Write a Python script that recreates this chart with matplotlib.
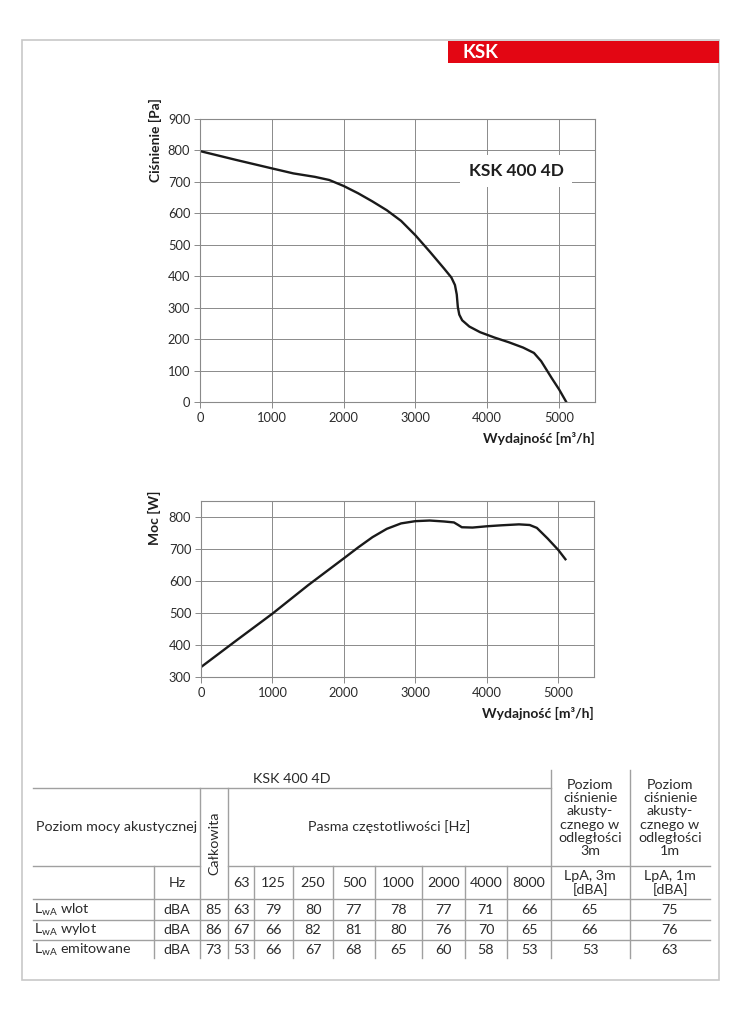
import matplotlib.pyplot as plt
from matplotlib.patches import Rectangle

plt.rcParams["font.family"] = ["Lato", "DejaVu Sans"]
plt.rcParams["mathtext.fontset"] = "custom"
plt.rcParams["mathtext.rm"] = "Lato"

# pressure curve (airflow m3/h -> Pa)
flow_p = [0, 500, 1000, 1300, 1600, 1800, 2000, 2200, 2400, 2600, 2800, 3000,
          3200, 3400, 3500, 3550, 3575, 3590, 3610, 3650, 3750, 3900, 4100,
          4300, 4500, 4650, 4750, 4900, 5000, 5100]
pressure = [798, 770, 743, 727, 716, 706, 687, 664, 638, 610, 576, 530,
            478, 424, 396, 372, 342, 302, 278, 260, 240, 222, 205,
            190, 173, 156, 130, 75, 40, 0]

# power curve (airflow m3/h -> W)
flow_w = [0, 500, 1000, 1500, 2000, 2200, 2400, 2600, 2800, 3000, 3200, 3400,
          3540, 3600, 3650, 3800, 4000, 4200, 4450, 4600, 4700, 4850, 5000, 5100]
power = [331, 415, 498, 587, 671, 705, 737, 763, 780, 787, 789, 786,
         783, 775, 768, 767, 771, 774, 777, 775, 766, 733, 697, 668]

model = "KSK 400 4D"
freqs = ["63", "125", "250", "500", "1000", "2000", "4000", "8000"]
row_labels = ["L$_{\\rm wA}$ wlot", "L$_{\\rm wA}$ wylot", "L$_{\\rm wA}$ emitowane"]
total = [85, 86, 73]
bands = [
    [63, 79, 80, 77, 78, 77, 71, 66],
    [67, 66, 82, 81, 80, 76, 70, 65],
    [53, 66, 67, 68, 65, 60, 58, 53],
]
lpa_3m = [65, 66, 53]
lpa_1m = [75, 76, 63]

W, H = 745, 1024
GRID = "#8a8a8a"
TXT = "#2b2b2b"

fig = plt.figure(figsize=(W / 100, H / 100), dpi=100)

# page frame + header
page = fig.add_axes([0, 0, 1, 1])
page.set_xlim(0, W)
page.set_ylim(H, 0)
page.axis("off")
page.add_patch(Rectangle((22, 40), 697, 940, fill=False, ec="#c8c8c8", lw=1.2))
page.add_patch(Rectangle((448, 41), 271, 22, fc="#e30613", ec="none"))
page.text(462, 53, "KSK", color="white", fontsize=13.5, fontweight="bold",
          va="center", ha="left")


def chart(rect, x, y, ylim, yticks, ylabel, label_xy):
    ax = fig.add_axes([rect[0] / W, 1 - rect[3] / H,
                       (rect[2] - rect[0]) / W, (rect[3] - rect[1]) / H])
    ax.plot(x, y, color="#1a1a1a", lw=1.7)
    ax.set_xlim(0, 5500)
    ax.set_ylim(*ylim)
    ax.set_xticks([0, 1000, 2000, 3000, 4000, 5000])
    ax.set_yticks(yticks)
    ax.grid(True, color=GRID, lw=0.7)
    for s in ax.spines.values():
        s.set_color(GRID)
        s.set_linewidth(0.8)
    ax.tick_params(length=4, width=0.7, color=GRID, labelsize=9.3,
                   labelcolor=TXT, pad=3)
    ax.set_ylabel(ylabel, fontsize=10, fontweight="bold", color="#1e1e1e")
    ax.yaxis.set_label_coords(*label_xy)
    ax.set_xlabel("Wydajność [m³/h]", fontsize=10, fontweight="bold",
                  color="#1e1e1e", loc="right", labelpad=6)
    return ax


ax1 = chart((200, 119, 595, 402), flow_p, pressure, (0, 900),
            range(0, 901, 100), "Ciśnienie [Pa]", (-0.097, 0.926))
ax1.text(4400, 735, model, fontsize=12.5, fontweight="bold", color="#1e1e1e",
         ha="center", va="center",
         bbox=dict(fc="white", ec="none", pad=6))

ax2 = chart((201, 501, 594, 677), flow_w, power, (300, 850),
            range(300, 801, 100), "Moc [W]", (-0.103, 0.903))

# acoustic table
t = page
LC = "#a0a0a0"
FS = 10.3
cols = [33, 154, 200, 228, 254, 293, 333, 375, 422, 465, 507, 551, 630, 710]
rows_y = [899, 920, 940]
bottom = 958


def hline(y, x0, x1):
    t.plot([x0, x1], [y, y], color=LC, lw=1.0)


def vline(x, y0, y1):
    t.plot([x, x], [y0, y1], color=LC, lw=1.0)


hline(788, 33, 551)
hline(866, 33, 200)
hline(866, 228, 710)
for y in rows_y:
    hline(y, 33, 710)
vline(154, 866, bottom)
vline(200, 788, bottom)
vline(228, 788, bottom)
for x in cols[4:11]:
    vline(x, 866, bottom)
vline(551, 770, bottom)
vline(630, 770, bottom)

t.text(292, 779, model, fontsize=FS, color=TXT, ha="center", va="center")
t.text(117, 827, "Poziom mocy akustycznej", fontsize=FS, color=TXT,
       ha="center", va="center")
t.text(214, 843, "Całkowita", fontsize=FS, color=TXT, ha="center",
       va="center", rotation=90)
t.text(389, 827, "Pasma częstotliwości [Hz]", fontsize=FS, color=TXT,
       ha="center", va="center")
for cx, d in [(590, "3m"), (670, "1m")]:
    t.text(cx, 818, "Poziom\nciśnienie\nakusty-\ncznego w\nodległości\n" + d,
           fontsize=FS, color=TXT, ha="center", va="center", linespacing=1.13)
    t.text(cx, 883, "LpA, " + d + "\n[dBA]", fontsize=FS, color=TXT,
           ha="center", va="center", linespacing=1.1)
t.text(177, 883, "Hz", fontsize=FS, color=TXT, ha="center", va="center")
for i, f in enumerate(freqs):
    cx = (cols[3 + i] + cols[4 + i]) / 2
    t.text(cx, 883, f, fontsize=FS, color=TXT, ha="center", va="center")

for r, lab in enumerate(row_labels):
    y = 910 + r * 20
    t.text(34, y, lab, fontsize=FS, color=TXT, ha="left", va="center")
    t.text(177, y, "dBA", fontsize=FS, color=TXT, ha="center", va="center")
    t.text(214, y, str(total[r]), fontsize=FS, color=TXT, ha="center", va="center")
    for i, v in enumerate(bands[r]):
        cx = (cols[3 + i] + cols[4 + i]) / 2
        t.text(cx, y, str(v), fontsize=FS, color=TXT, ha="center", va="center")
    t.text(590, y, str(lpa_3m[r]), fontsize=FS, color=TXT, ha="center", va="center")
    t.text(670, y, str(lpa_1m[r]), fontsize=FS, color=TXT, ha="center", va="center")

fig.savefig("out.png", dpi=100)
